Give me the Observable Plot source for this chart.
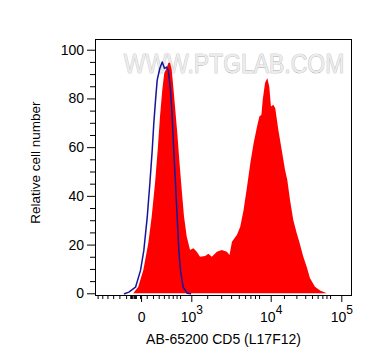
<!DOCTYPE html>
<html>
<head>
<meta charset="utf-8">
<script src="https://cdn.jsdelivr.net/npm/d3@7"></script>
<script src="https://cdn.jsdelivr.net/npm/@observablehq/plot@0.6"></script>
<style>
  html, body { margin: 0; padding: 0; background: #fff; }
</style>
</head>
<body>
<div id="chart"></div>
<script>
// ---- Data (x in display "decade" units: 10^3 -> 3, 10^4 -> 4, 10^5 -> 5) ----
const redX = [2.300, 2.367, 2.430, 2.494, 2.557, 2.600, 2.642, 2.676, 2.705, 2.734, 2.759, 2.790, 2.810, 2.832, 2.853, 2.873, 2.895, 2.924, 2.949, 2.980, 3.009, 3.043, 3.085, 3.127, 3.170, 3.211, 3.275, 3.316, 3.359, 3.423, 3.486, 3.549, 3.582, 3.613, 3.676, 3.718, 3.759, 3.803, 3.844, 3.886, 3.929, 3.958, 3.984, 4.000, 4.033, 4.065, 4.093, 4.117, 4.150, 4.178, 4.221, 4.269, 4.316, 4.348, 4.387, 4.433, 4.482, 4.518, 4.575, 4.623, 4.670, 4.741, 4.812, 4.907];
const redY = [0, 0, 2.7, 9.6, 20.6, 31.5, 45.2, 58.9, 72.6, 83.6, 90.4, 92.5, 94.5, 94.8, 91.8, 84.9, 76.7, 65.8, 54.8, 42.5, 31.5, 23.3, 17.8, 18.5, 17.1, 15.0, 15.3, 16.2, 15.0, 17.1, 17.8, 17.1, 15.7, 21.2, 24.0, 27.4, 34.2, 43.8, 53.4, 61.7, 68.5, 72.6, 73.3, 79.4, 86.3, 88.4, 84.9, 76.7, 77.4, 76.0, 67.1, 58.9, 50.7, 46.6, 38.3, 30.1, 24.7, 21.2, 15.0, 10.9, 6.2, 2.7, 1.1, 0];

const blueX = [2.249, 2.304, 2.389, 2.452, 2.494, 2.537, 2.570, 2.600, 2.620, 2.642, 2.663, 2.696, 2.727, 2.756, 2.781, 2.803, 2.832, 2.853, 2.873, 2.895, 2.916, 2.937, 2.958, 2.992, 3.043, 3.085];
const blueY = [0, 0.7, 2.7, 9.6, 17.8, 31.5, 45.2, 58.9, 69.9, 79.4, 87.7, 92.5, 95.2, 92.5, 93.1, 91.8, 83.6, 72.6, 58.9, 45.2, 31.5, 17.8, 9.6, 2.7, 0.2, 0];

const xMajorRaw = [0, 1e3, 1e4, 1e5];
const xMajorLabels = ["0", "10^3", "10^4", "10^5"];
const xMinorRaw = [-600, -500, -400, -300, -200, -100, -40, -30, -20, -10, 10, 20, 30, 40,
  100, 200, 300, 400, 500, 600, 700, 800, 900,
  2000, 3000, 4000, 5000, 6000, 7000, 8000, 9000,
  20000, 30000, 40000, 50000, 60000, 70000, 80000, 90000];
const yTicks = [0, 20, 40, 60, 80, 100];
const yMinorTicks = [5, 10, 15, 25, 30, 35, 45, 50, 55, 65, 70, 75, 85, 90, 95];

const xTitle = "AB-65200 CD5 (L17F12)";
const yTitle = "Relative cell number";
const watermark = "WWW.PTGLAB.COM";

// biexponential-like display transform (raw value -> decade units)
const W = 488.6;
function disp(v) {
  return v >= 1000 ? Math.log10(v) : 3 + (Math.asinh(v / W) - Math.asinh(1000 / W)) / Math.LN10;
}

const red = redX.map((x, i) => ({x, y: redY[i]}));
const blue = blueX.map((x, i) => ({x, y: blueY[i]}));
const xMajor = xMajorRaw.map(disp);
const labelMap = new Map(xMajor.map((d, i) => [d, xMajorLabels[i]]));
const xMinor = xMinorRaw.map(disp).filter(d => d >= 1.882);

const chart = Plot.plot({
  width: 372,
  height: 364,
  marginLeft: 95,
  marginRight: 21,
  marginTop: 39,
  marginBottom: 69,
  style: {fontFamily: "'Liberation Sans', Arial, sans-serif", fontSize: "14px", color: "black", background: "white"},
  x: {type: "linear", domain: [1.882, 3, 4, 5, 5.25], range: [95, 183.3, 262.7, 333.3, 351]},
  y: {domain: [-0.7, 104.4]},
  marks: [
    Plot.text([watermark], {text: d => d, frameAnchor: "top", dx: 10.5, dy: 25, lineAnchor: "middle", textAnchor: "middle",
      fontSize: 28, fill: "#ececec", stroke: "#a8a8a8", strokeWidth: 0.7}),
    Plot.areaY(red, {x: "x", y: "y", fill: "#ff0000"}),
    Plot.line(blue, {x: "x", y: "y", stroke: "#16169a", strokeWidth: 1.5}),
    Plot.frame({stroke: "black", strokeWidth: 1}),
    Plot.axisY({ticks: yTicks, tickSize: 8, tickPadding: 3.4, label: null, fontSize: 14}),
    Plot.axisY({ticks: yMinorTicks, tickSize: 5, tickFormat: () => "", label: null}),
    Plot.axisX({ticks: xMajor, tickSize: 7, tickPadding: 9.5, tickFormat: d => labelMap.get(d), label: null, fontSize: 14, dx: 8}),
    Plot.axisX({ticks: xMinor, tickSize: 4, tickFormat: () => "", label: null}),
    Plot.text([xTitle], {text: d => d, frameAnchor: "bottom", dy: 44.5, lineAnchor: "middle", textAnchor: "middle", fontSize: 14, fill: "black"}),
    Plot.text([yTitle], {text: d => d, frameAnchor: "middle", dx: -188, dy: 56.3, rotate: -90, lineAnchor: "middle", textAnchor: "start", fontSize: 13.5, fill: "black"})
  ]
});

// superscript exponents on tick labels; condense the watermark
d3.select(chart).selectAll("text").each(function() {
  const t = this.textContent;
  const m = /^10\^(\d)$/.exec(t);
  if (m) {
    const sel = d3.select(this);
    sel.text("10");
    sel.append("tspan").attr("dy", "-8").attr("font-size", "12").text(m[1]);
  }
  if (t === watermark) {
    const sel = d3.select(this);
    const tr = sel.attr("transform") || "";
    sel.attr("transform", tr + " scale(0.82,1)");
  }
});

document.getElementById("chart").appendChild(chart);
</script>
</body>
</html>
